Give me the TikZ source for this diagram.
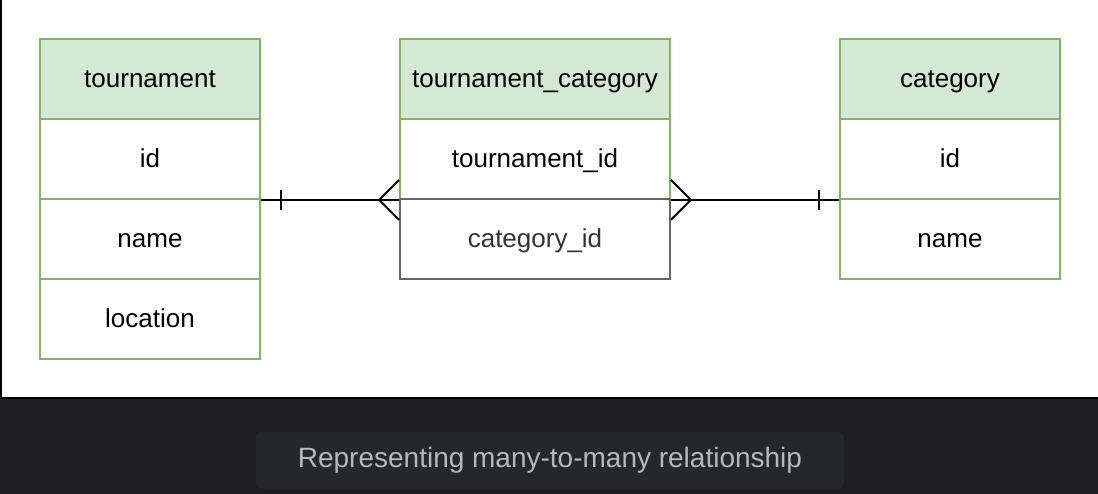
\documentclass[tikz,border=0pt]{standalone}
\usepackage{fontspec}
\setmainfont{Liberation Sans}
\definecolor{hdrfill}{HTML}{D5E8D4}
\definecolor{hdrline}{HTML}{82B366}
\definecolor{greyline}{HTML}{666666}
\definecolor{greytext}{HTML}{333333}
\definecolor{darkbg}{HTML}{1E1E20}
\definecolor{capbg}{HTML}{26272B}
\definecolor{captext}{HTML}{B8B8BA}
\tikzset{
  cell/.style={draw=hdrline, fill=white, line width=1.8pt, minimum height=80pt, inner sep=0pt, text height=18pt, text depth=0pt, font=\fontsize{26}{30}\selectfont},
  hdr/.style={cell, fill=hdrfill},
  greycell/.style={cell, draw=greyline, text=greytext},
  rel/.style={draw=black, line width=2pt},
}
\begin{document}
\begin{tikzpicture}[x=1pt,y=-1pt]
\useasboundingbox (0,0) rectangle (1098,494);
\fill[white] (0,0) rectangle (1098,398);
\fill[darkbg] (0,398) rectangle (1098,494);
\draw[line width=2pt] (1,0) -- (1,398) -- (1098,398);
% tournament
\node[hdr, minimum width=220pt] (t0) at (150,79) {tournament};
\node[cell, minimum width=220pt] (t1) at (150,159) {id};
\node[cell, minimum width=220pt] (t2) at (150,239) {name};
\node[cell, minimum width=220pt] (t3) at (150,319) {location};
% tournament_category
\node[hdr, minimum width=270pt] (c0) at (535,79) {tournament\_category};
\node[cell, minimum width=270pt] (c1) at (535,159) {tournament\_id};
\node[greycell, minimum width=270pt] (c2) at (535,239) {category\_id};
% category
\node[hdr, minimum width=220pt] (k0) at (950,79) {category};
\node[cell, minimum width=220pt] (k1) at (950,159) {id};
\node[cell, minimum width=220pt] (k2) at (950,239) {name};
% relationships
\draw[rel] (t1.south east) -- (c1.south west);
\draw[rel] ([xshift=20pt]t1.south east) ++(0,-10) -- ++(0,20);
\draw[rel] (c1.south west) ++(0,-20) -- ++(-20,20) -- ++(20,20);
\draw[rel] (c1.south east) -- (k1.south west);
\draw[rel] ([xshift=-20pt]k1.south west) ++(0,-10) -- ++(0,20);
\draw[rel] (c1.south east) ++(0,-20) -- ++(20,20) -- ++(-20,20);
% caption
\node[fill=capbg, rounded corners=6pt, minimum width=588pt, minimum height=57pt, inner sep=0pt, text=captext, font=\fontsize{28}{32}\selectfont] (cap) at (550,460.5) {Representing many-to-many relationship};
\end{tikzpicture}
\end{document}
